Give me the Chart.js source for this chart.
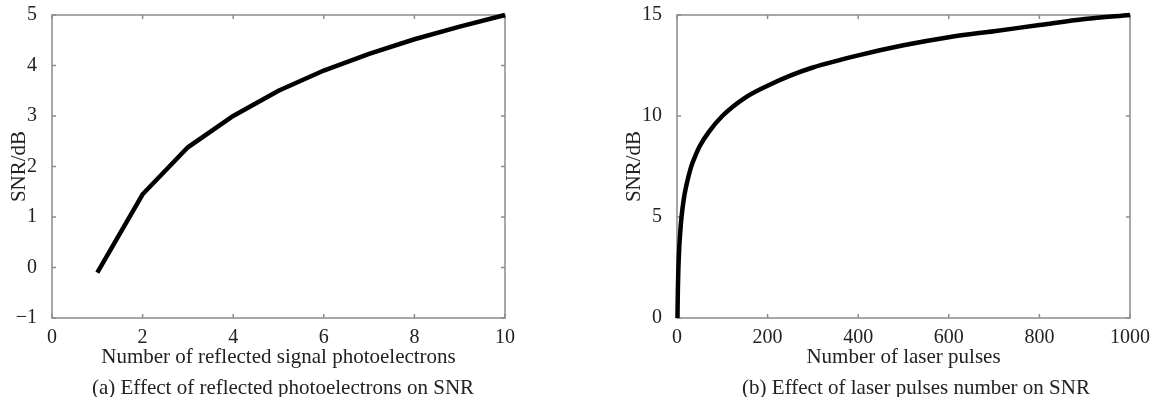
<!DOCTYPE html>
<html>
<head>
<meta charset="utf-8">
<script src="https://cdn.jsdelivr.net/npm/chart.js@4/dist/chart.umd.min.js"></script>
<style>
  body { margin: 0; background: #fff; width: 1157px; height: 397px; overflow: hidden; position: relative; }
  .box { position: absolute; top: 0; height: 397px; }
  .caption { position: absolute; top: 375px; font: 21px "Liberation Serif", serif; line-height: 24px; color: #222; white-space: nowrap; transform: translateX(-50%); }
</style>
</head>
<body>
<div class="box" style="left:0;width:615px"><canvas id="left"></canvas></div>
<div class="box" style="left:615px;width:542px"><canvas id="right"></canvas></div>
<div class="caption" style="left:283px">(a) Effect of reflected photoelectrons on SNR</div>
<div class="caption" style="left:916px">(b) Effect of laser pulses number on SNR</div>
<script>
// (a) SNR vs number of reflected signal photoelectrons
const photoelectrons = [1, 2, 3, 4, 5, 6, 7, 8, 9, 10];
const snrPhotoelectrons = [-0.1, 1.45, 2.38, 3.0, 3.5, 3.9, 4.23, 4.52, 4.77, 5.0];

// (b) SNR vs number of laser pulses
const laserPulses = [1, 2, 3, 5, 7, 10, 15, 20, 30, 40, 50, 70, 100, 150, 200, 250, 300, 400, 500, 600, 700, 800, 900, 1000];
const snrPulses = [0, 1.5, 2.4, 3.5, 4.2, 5.0, 5.9, 6.5, 7.4, 8.0, 8.5, 9.2, 10.0, 10.9, 11.5, 12.0, 12.4, 13.0, 13.5, 13.9, 14.2, 14.5, 14.8, 15.0];

const axisColor = "#8c8c8c";
const textColor = "#222";
const serif = "'Liberation Serif', 'Times New Roman', serif";

// MATLAB-style box with inward ticks
const framePlugin = {
  id: "frame",
  beforeDatasetsDraw(chart) {
    const { ctx, chartArea: a, scales: { x, y } } = chart;
    ctx.save();
    ctx.strokeStyle = axisColor;
    ctx.lineWidth = 1.5;
    ctx.strokeRect(a.left, a.top, a.right - a.left, a.bottom - a.top);
    ctx.beginPath();
    x.ticks.forEach(t => {
      const px = x.getPixelForValue(t.value);
      ctx.moveTo(px, a.bottom); ctx.lineTo(px, a.bottom - 4);
      ctx.moveTo(px, a.top); ctx.lineTo(px, a.top + 4);
    });
    y.ticks.forEach(t => {
      const py = y.getPixelForValue(t.value);
      ctx.moveTo(a.left, py); ctx.lineTo(a.left + 4, py);
      ctx.moveTo(a.right, py); ctx.lineTo(a.right - 4, py);
    });
    ctx.stroke();
    ctx.restore();
  }
};

const fmt = v => String(v).replace("-", "\u2212");

function makeChart(id, xs, ys, opts) {
  return new Chart(document.getElementById(id), {
    type: "line",
    data: {
      datasets: [{
        data: xs.map((v, i) => ({ x: v, y: ys[i] })),
        borderColor: "#000",
        borderWidth: 4.5,
        pointRadius: 0,
        fill: false,
        clip: false,
        tension: opts.smooth ? 0.4 : 0,
        cubicInterpolationMode: opts.smooth ? "monotone" : "default"
      }]
    },
    options: {
      responsive: true,
      maintainAspectRatio: false,
      animation: false,
      layout: { padding: { top: 15, left: 0, right: opts.padRight, bottom: 0 } },
      plugins: { legend: { display: false }, tooltip: { enabled: false } },
      scales: {
        x: {
          type: "linear",
          min: opts.xMin, max: opts.xMax,
          grid: { display: false },
          border: { display: false },
          ticks: { stepSize: opts.xStep, color: textColor, padding: 0, maxRotation: 0, font: { family: serif, size: 20 }, callback: fmt },
          title: { display: true, text: opts.xTitle, color: textColor, font: { family: serif, size: 21, lineHeight: 1.1 }, padding: { top: 0, bottom: 28 } },
          afterFit(s) { s.height = 79; s.paddingLeft = 0; s.paddingRight = 0; }
        },
        y: {
          type: "linear",
          min: opts.yMin, max: opts.yMax,
          grid: { display: false },
          border: { display: false },
          ticks: { stepSize: opts.yStep, color: textColor, padding: 7, font: { family: serif, size: 20 }, callback: fmt },
          title: { display: true, text: "SNR/dB", color: textColor, font: { family: serif, size: 21, lineHeight: 1.1 }, padding: { top: 8, bottom: 0 } },
          afterFit(s) { s.width = opts.yWidth; s.paddingTop = 0; s.paddingBottom = 0; }
        }
      }
    },
    plugins: [framePlugin]
  });
}

makeChart("left", photoelectrons, snrPhotoelectrons, {
  xMin: 0, xMax: 10, xStep: 2, yMin: -1, yMax: 5, yStep: 1,
  xTitle: "Number of reflected signal photoelectrons",
  yWidth: 52, padRight: 110, smooth: false
});

makeChart("right", laserPulses, snrPulses, {
  xMin: 0, xMax: 1000, xStep: 200, yMin: 0, yMax: 15, yStep: 5,
  xTitle: "Number of laser pulses",
  yWidth: 62, padRight: 27, smooth: true
});
</script>
</body>
</html>
